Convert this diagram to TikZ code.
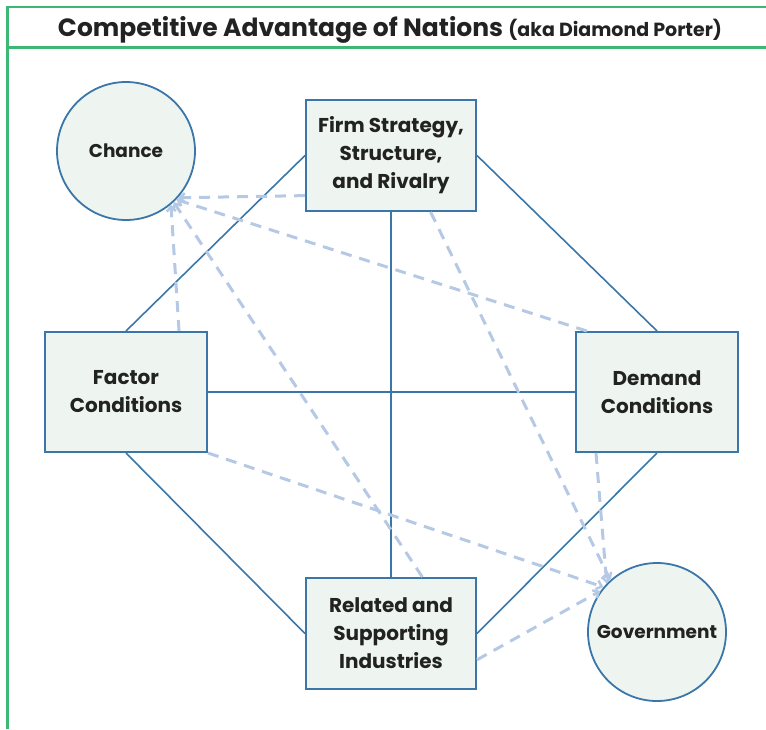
\documentclass[tikz,border=0pt]{standalone}
\usepackage{fontspec}
\setmainfont{Poppins}
\usetikzlibrary{arrows.meta,calc}
\definecolor{framegreen}{HTML}{3DB874}
\definecolor{boxblue}{HTML}{3A77A8}
\definecolor{boxfill}{HTML}{EEF5F0}
\definecolor{dashblue}{HTML}{B6C9E4}
\definecolor{txt}{HTML}{222222}
\tikzset{
  box/.style={draw=boxblue, line width=2pt, fill=boxfill, minimum width=162pt, minimum height=120pt,
    align=center, text=txt, font=\fontsize{20}{28}\selectfont\bfseries, inner sep=0pt},
  circ/.style={circle, draw=boxblue, line width=1.8pt, fill=boxfill, minimum size=138pt, inner sep=0pt,
    text=txt, font=\fontsize{18.5}{22}\selectfont\bfseries},
  solidlink/.style={draw=boxblue, line width=1.6pt},
  dashlink/.style={draw=dashblue, line width=3pt, dash pattern=on 11pt off 8pt,
    -{Straight Barb[length=5pt,width=9pt,line width=2.5pt]}},
  frame/.style={draw=framegreen, line width=2.2pt}
}
\begin{document}
\begin{tikzpicture}[x=1pt,y=-1pt]
\useasboundingbox (0,0) rectangle (766,729);
% frame
\draw[frame] (766,7) -- (7.5,7) -- (7.5,729);
\draw[frame] (7.5,47.5) -- (766,47.5);
\node[text=txt, font=\fontsize{25}{28}\selectfont\bfseries, anchor=base] (title) at (390,36)
  {Competitive Advantage of Nations {\fontsize{19}{22}\selectfont(aka Diamond Porter)}};
% nodes
\node[box, minimum width=170pt, minimum height=111pt] (firm) at (391,155.5) {Firm Strategy,\\Structure,\\and Rivalry};
\node[box] (factor) at (126,392) {Factor\\Conditions};
\node[box] (demand) at (657,392) {Demand\\Conditions};
\node[box, minimum width=170pt, minimum height=111pt] (related) at (391,633.5) {Related and\\Supporting\\Industries};
\node[circ] (chance) at (126,151) {Chance};
\node[circ] (gov) at (657,632) {Government};
% solid links
\draw[solidlink] (firm.south) -- (related.north);
\draw[solidlink] (factor.east) -- (demand.west);
\draw[solidlink] (firm.west) -- (factor.north);
\draw[solidlink] (firm.east) -- (demand.north);
\draw[solidlink] (factor.south) -- (related.west);
\draw[solidlink] (demand.south) -- (related.east);
% dashed links to chance
\draw[dashlink] (firm.205) -- (chance.-42);
\draw[dashlink] (demand.139) -- (chance.-44);
\draw[dashlink] (factor.49) -- (chance.-50);
\draw[dashlink] (related.61) -- (chance.-47);
% dashed links to government
\draw[dashlink] (firm.-55) -- (gov.132);
\draw[dashlink] (demand.225) -- (gov.136);
\draw[dashlink] (factor.south east) -- (gov.140);
\draw[dashlink] (related.-17) -- (gov.144);
\end{tikzpicture}
\end{document}
